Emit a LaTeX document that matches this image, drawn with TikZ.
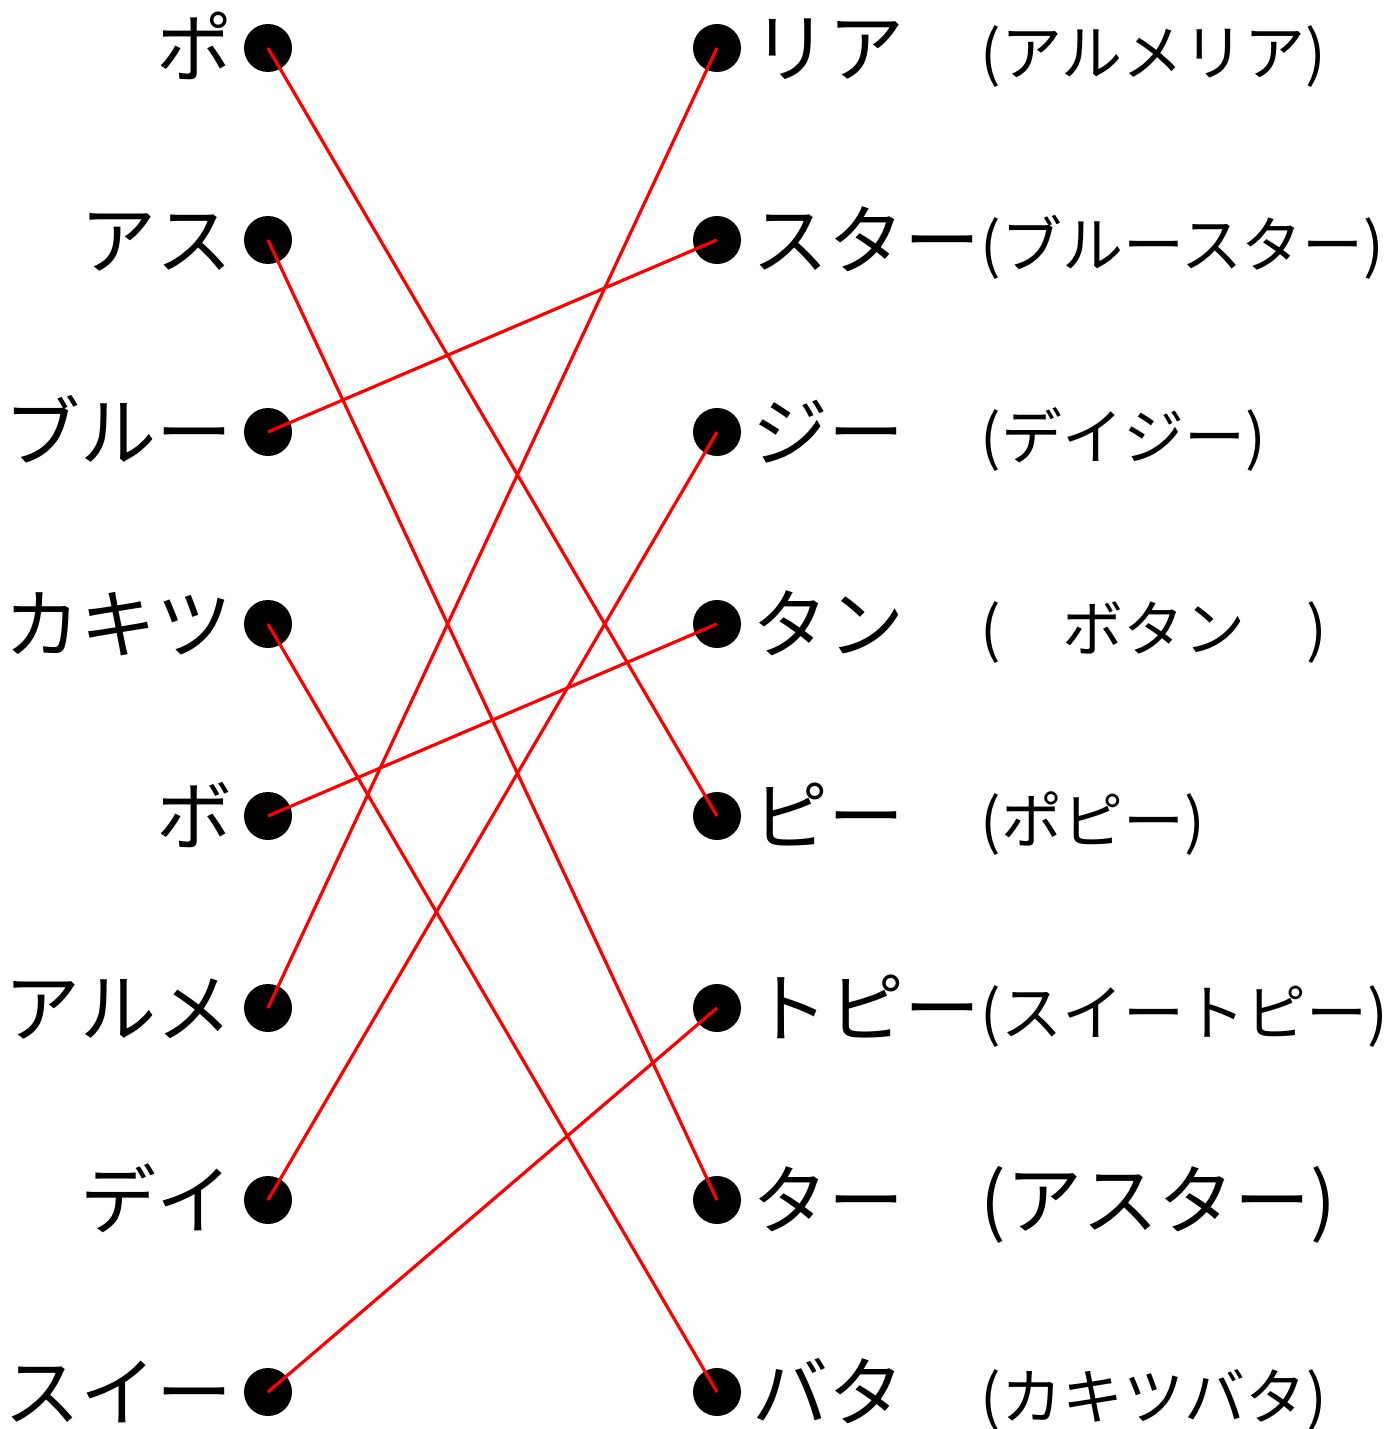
\documentclass[tikz,border=0pt]{standalone}
\usepackage{fontspec}
\setmainfont{Noto Sans CJK JP}
\usetikzlibrary{positioning}

\begin{document}
\begin{tikzpicture}[x=0.5pt, y=-0.5pt, node distance=5.5pt,
  dot/.style={circle, fill=black, inner sep=0pt, minimum size=24pt},
  part/.style={font=\fontsize{38pt}{38pt}\selectfont, inner sep=0pt, text height=33.4pt, text depth=4.6pt},
  whole/.style={font=\fontsize{30.5pt}{30.5pt}\selectfont, inner sep=0pt, anchor=west, text height=26.8pt, text depth=3.7pt},
  link/.style={red, line width=1.6pt}]
\useasboundingbox (0,0) rectangle (1397,1429);
% left column
\node[dot] (l1) at (268,48) {};
\node[dot] (l2) at (268,240) {};
\node[dot] (l3) at (268,432) {};
\node[dot] (l4) at (268,624) {};
\node[dot] (l5) at (268,816) {};
\node[dot] (l6) at (268,1008) {};
\node[dot] (l7) at (268,1200) {};
\node[dot] (l8) at (268,1392) {};
\node[part, left=of l1] (po) {ポ};
\node[part, left=of l2] (asu) {アス};
\node[part, left=of l3] (buru) {ブルー};
\node[part, left=of l4] (kakitsu) {カキツ};
\node[part, left=of l5] (bo) {ボ};
\node[part, left=of l6] (arume) {アルメ};
\node[part, left=of l7] (dei) {デイ};
\node[part, left=of l8] (sui) {スイー};
% right column
\node[dot] (r1) at (717,48) {};
\node[dot] (r2) at (717,240) {};
\node[dot] (r3) at (717,432) {};
\node[dot] (r4) at (717,624) {};
\node[dot] (r5) at (717,816) {};
\node[dot] (r6) at (717,1008) {};
\node[dot] (r7) at (717,1200) {};
\node[dot] (r8) at (717,1392) {};
\node[part, right=of r1] (ria) {リア};
\node[part, right=of r2] (sutaa) {スター};
\node[part, right=of r3] (jii) {ジー};
\node[part, right=of r4] (tan) {タン};
\node[part, right=of r5] (pii) {ピー};
\node[part, right=of r6] (topii) {トピー};
\node[part, right=of r7] (taa) {ター};
\node[part, right=of r8] (bata) {バタ};
% whole names
\node[whole] (f1) at (980,52) {(アルメリア)};
\node[whole] (f2) at (980,244) {(ブルースター)};
\node[whole] (f3) at (980,436) {(デイジー)};
\node[whole] (f4) at (980,628) {(　ボタン　)};
\node[whole] (f5) at (980,820) {(ポピー)};
\node[whole] (f6) at (980,1012) {(スイートピー)};
\node[part, anchor=west] (f7) at (980,1200) {(アスター)};
\node[whole] (f8) at (980,1396) {(カキツバタ)};
% links
\draw[link] (l1.center) -- (r5.center);
\draw[link] (l2.center) -- (r7.center);
\draw[link] (l3.center) -- (r2.center);
\draw[link] (l4.center) -- (r8.center);
\draw[link] (l5.center) -- (r4.center);
\draw[link] (l6.center) -- (r1.center);
\draw[link] (l7.center) -- (r3.center);
\draw[link] (l8.center) -- (r6.center);
\end{tikzpicture}
\end{document}
